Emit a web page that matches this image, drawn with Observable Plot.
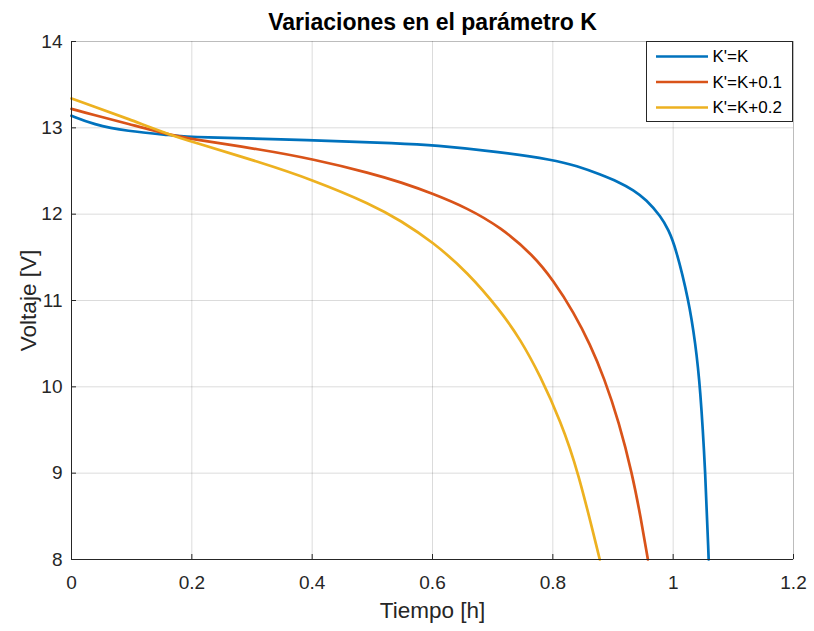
<!DOCTYPE html>
<html>
<head>
<meta charset="utf-8">
<script src="https://cdn.jsdelivr.net/npm/d3@7"></script>
<script src="https://cdn.jsdelivr.net/npm/@observablehq/plot@0.6"></script>
<style>
  body { margin: 0; background: white; }
  #chart { width: 814px; height: 631px; }
</style>
</head>
<body>
<div id="chart"></div>
<script>
const titulo = "Variaciones en el parámetro K";
const etiquetaX = "Tiempo [h]";
const etiquetaY = "Voltaje [V]";
const series = ["K'=K", "K'=K+0.1", "K'=K+0.2"];
const colores = ["#0072BD", "#D95319", "#EDB120"];
const ticksX = [0, 0.2, 0.4, 0.6, 0.8, 1, 1.2];
const ticksY = [8, 9, 10, 11, 12, 13, 14];

const tiempoK = [0, 0.036, 0.092, 0.165, 0.2, 0.4, 0.547, 0.6, 0.713, 0.8, 0.84, 0.879, 0.91, 0.934, 0.955, 0.98, 0.992, 1.004, 1.026, 1.037, 1.045, 1.0537, 1.059];
const voltajeK = [13.14, 13.04, 12.96, 12.915, 12.89, 12.86, 12.82, 12.80, 12.72, 12.63, 12.56, 12.46, 12.37, 12.28, 12.17, 11.97, 11.82, 11.62, 11.0, 10.5, 10.0, 9.0, 8.0];

const tiempoK01 = [0, 0.036, 0.092, 0.165, 0.2, 0.314, 0.4, 0.5, 0.547, 0.6, 0.658, 0.713, 0.768, 0.801, 0.835, 0.862, 0.885, 0.910, 0.932, 0.946, 0.958];
const voltajeK01 = [13.22, 13.15, 13.05, 12.915, 12.87, 12.75, 12.64, 12.47, 12.37, 12.24, 12.07, 11.85, 11.52, 11.23, 10.86, 10.49, 10.11, 9.59, 8.99, 8.49, 8.0];

const tiempoK02 = [0, 0.036, 0.092, 0.165, 0.2, 0.314, 0.4, 0.5, 0.547, 0.6, 0.658, 0.713, 0.746, 0.779, 0.813, 0.841, 0.878];
const voltajeK02 = [13.34, 13.25, 13.11, 12.915, 12.84, 12.60, 12.40, 12.11, 11.925, 11.68, 11.33, 10.88, 10.55, 10.13, 9.60, 9.05, 8.0];

const tiempos = [tiempoK, tiempoK01, tiempoK02];
const voltajes = [voltajeK, voltajeK01, voltajeK02];
const datos = series.flatMap((s, i) => tiempos[i].map((t, j) => ({serie: s, t, v: voltajes[i][j]})));

const fuente = "'Liberation Sans', Arial, Helvetica, sans-serif";
const grisEje = "#262626";

const chart = Plot.plot({
  width: 814,
  height: 631,
  marginTop: 41,
  marginRight: 21,
  marginBottom: 72,
  marginLeft: 71,
  style: {fontFamily: fuente, color: grisEje, background: "white", overflow: "visible"},
  x: {domain: [0, 1.2]},
  y: {domain: [8, 14]},
  color: {domain: series, range: colores},
  marks: [
    Plot.gridX(ticksX, {stroke: "#000", strokeOpacity: 0.14, strokeWidth: 1}),
    Plot.gridY(ticksY, {stroke: "#000", strokeOpacity: 0.14, strokeWidth: 1}),
    Plot.frame({stroke: "#000", strokeOpacity: 0.14}),
    Plot.line(datos, {x: "t", y: "v", z: "serie", stroke: "serie", strokeWidth: 2.7, curve: "basis"}),
    Plot.ruleX([0], {stroke: grisEje, strokeWidth: 1}),
    Plot.ruleY([8], {stroke: grisEje, strokeWidth: 1}),
    Plot.axisX({ticks: ticksX, tickFormat: d => String(d), tickSize: -5, tickPadding: 21, fontSize: 19, label: null, stroke: grisEje}),
    Plot.axisY({ticks: ticksY, tickFormat: d => String(d), tickSize: -5, tickPadding: 14, fontSize: 19, label: null, stroke: grisEje}),
    Plot.text([etiquetaX], {frameAnchor: "bottom", lineAnchor: "middle", dy: 51, fontSize: 22.5, fill: grisEje}),
    Plot.text([etiquetaY], {frameAnchor: "left", textAnchor: "middle", lineAnchor: "middle", dx: -43, rotate: -90, fontSize: 22.5, fill: grisEje}),
    Plot.text([titulo], {frameAnchor: "top", lineAnchor: "middle", dy: -19, fontSize: 23, fontWeight: "bold", fill: "#000"})
  ]
});

// Legend (MATLAB style box in the upper right)
const svg = d3.select(chart);
const lg = svg.append("g").attr("transform", "translate(646.5,41.5)");
lg.append("rect").attr("width", 146).attr("height", 80).attr("fill", "white").attr("stroke", grisEje).attr("stroke-width", 1);
series.forEach((s, i) => {
  const y = 15 + i * 25.5;
  lg.append("line").attr("x1", 9.5).attr("x2", 61.5).attr("y1", y).attr("y2", y)
    .attr("stroke", colores[i]).attr("stroke-width", 2.7);
  lg.append("text").attr("x", 66).attr("y", y).attr("dy", "0.35em")
    .attr("text-anchor", "start")
    .attr("font-size", 17).attr("font-family", fuente).attr("fill", "#000").text(s);
});

document.getElementById("chart").appendChild(chart);
</script>
</body>
</html>
